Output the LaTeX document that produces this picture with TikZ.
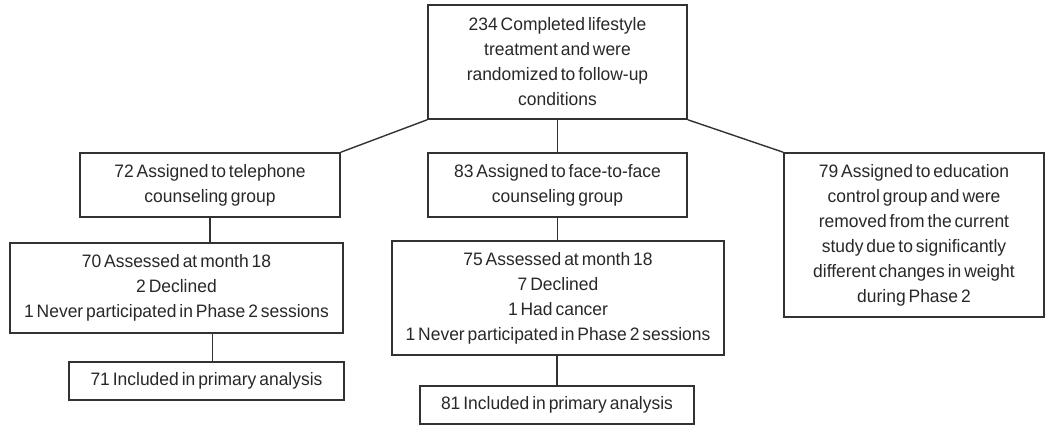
\documentclass[tikz,border=0pt]{standalone}
\usepackage{fontspec}
\setmainfont[FakeStretch=0.97,WordSpace=0.6]{Liberation Sans}
\definecolor{ink}{RGB}{40,40,40}
\definecolor{edge}{RGB}{50,50,50}
\begin{document}
\begin{tikzpicture}[x=1pt,y=-1pt,
  box/.style={draw=edge,line width=1.5pt,fill=white,text=ink,align=center,inner sep=0pt,
    font=\fontsize{18}{25}\selectfont},
  link/.style={draw=edge,line width=1.4pt}]
\useasboundingbox[fill=white] (0,0) rectangle (1050,441);
\node[box,minimum width=259pt,minimum height=114pt] (top) at (557.5,62)
  {234 Completed lifestyle\\treatment and were\\randomized to follow-up\\conditions};
\node[box,minimum width=260pt,minimum height=64pt] (tel) at (210,185)
  {72 Assigned to telephone\\counseling group};
\node[box,minimum width=259pt,minimum height=64pt] (ftf) at (557.5,185)
  {83 Assigned to face-to-face\\counseling group};
\node[box,minimum width=260pt,minimum height=164pt] (edu) at (914,235)
  {79 Assigned to education\\control group and were\\removed from the current\\study due to significantly\\different changes in weight\\during Phase 2};
\node[box,minimum width=333pt,minimum height=90pt] (a1) at (176.5,288)
  {70 Assessed at month 18\\2 Declined\\1 Never participated in Phase 2 sessions};
\node[box,minimum width=332pt,minimum height=114pt] (a2) at (558,298)
  {75 Assessed at month 18\\7 Declined\\1 Had cancer\\1 Never participated in Phase 2 sessions};
\node[box,minimum width=275pt,minimum height=38pt] (i1) at (206.5,381)
  {71 Included in primary analysis};
\node[box,minimum width=274pt,minimum height=38pt] (i2) at (557,405)
  {81 Included in primary analysis};
\draw[link] (top.south) -- (ftf.north);
\draw[link] (top.south west) -- (tel.north east);
\draw[link] (top.south east) -- (edu.north west);
\draw[link] (tel.south) -- (tel.south |- a1.north);
\draw[link] ([xshift=6pt]i1.north |- a1.south) -- ([xshift=6pt]i1.north);
\draw[link] (ftf.south) -- (ftf.south |- a2.north);
\draw[link] (i2.north |- a2.south) -- (i2.north);
\end{tikzpicture}
\end{document}
